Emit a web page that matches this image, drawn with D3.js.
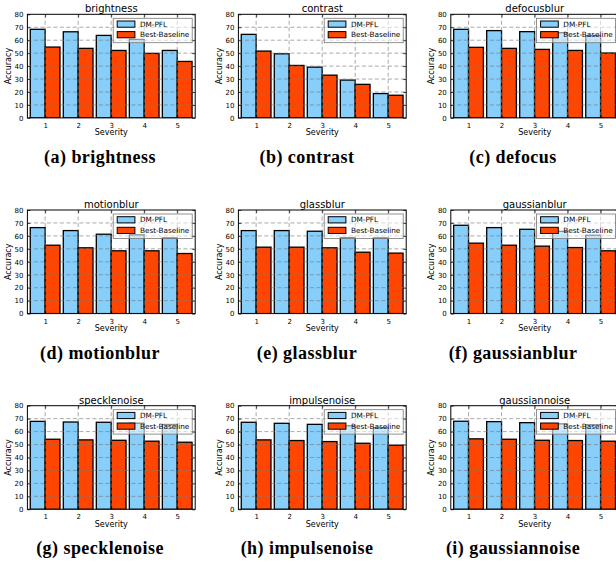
<!DOCTYPE html>
<html>
<head>
<meta charset="utf-8">
<script src="https://cdnjs.cloudflare.com/ajax/libs/d3/7.8.5/d3.min.js"></script>
<style>
  html, body { margin: 0; padding: 0; background: #fff; }
  svg { display: block; }
</style>
</head>
<body>
<svg id="chart" width="616" height="565"></svg>
<script>
// ---- data ----
const severities = [1, 2, 3, 4, 5];
const yTicks = [0, 10, 20, 30, 40, 50, 60, 70, 80];
const seriesNames = ["DM-PFL", "Best-Baseline"];
const panelTitles = ["brightness", "contrast", "defocusblur", "motionblur", "glassblur", "gaussianblur", "specklenoise", "impulsenoise", "gaussiannoise"];
const captions = ["(a) brightness", "(b) contrast", "(c) defocus", "(d) motionblur", "(e) glassblur", "(f) gaussianblur", "(g) specklenoise", "(h) impulsenoise", "(i) gaussiannoise"];

const dmBrightness    = [68.4, 66.5, 63.7, 60.6, 52.1];
const baseBrightness  = [54.7, 53.7, 52.1, 49.8, 43.6];
const dmContrast      = [64.5, 49.5, 39.2, 29.2, 18.8];
const baseContrast    = [51.6, 40.5, 33.0, 25.9, 17.5];
const dmDefocus       = [68.4, 67.4, 66.6, 65.8, 63.5];
const baseDefocus     = [54.5, 53.7, 52.9, 52.1, 50.1];
const dmMotion        = [66.4, 64.1, 61.3, 60.8, 58.5];
const baseMotion      = [52.8, 50.8, 48.5, 48.5, 46.4];
const dmGlass         = [64.1, 64.1, 63.6, 58.7, 58.5];
const baseGlass       = [51.3, 51.3, 50.8, 47.4, 46.7];
const dmGaussBlur     = [68.2, 66.4, 65.1, 63.5, 60.5];
const baseGaussBlur   = [54.4, 52.8, 52.1, 51.0, 48.5];
const dmSpeckle       = [67.9, 67.4, 67.2, 66.5, 65.5];
const baseSpeckle     = [54.1, 53.6, 53.3, 52.6, 51.8];
const dmImpulse       = [67.2, 66.4, 65.6, 64.5, 63.0];
const baseImpulse     = [53.6, 53.1, 52.3, 51.0, 49.5];
const dmGaussNoise    = [68.0, 67.7, 66.9, 66.0, 65.3];
const baseGaussNoise  = [54.4, 54.1, 53.3, 53.1, 52.6];

const dmSeries = [dmBrightness, dmContrast, dmDefocus, dmMotion, dmGlass, dmGaussBlur, dmSpeckle, dmImpulse, dmGaussNoise];
const baseSeries = [baseBrightness, baseContrast, baseDefocus, baseMotion, baseGlass, baseGaussBlur, baseSpeckle, baseImpulse, baseGaussNoise];

// ---- layout ----
const colLefts = [27.4, 238.4, 450.8];
const rowTops = [14.3, 210, 405.7];
const captionCenters = [100, 307, 513];
const captionBaselines = [163, 358.5, 554];
const plotW = 167.8, plotH = 103.6;
const colors = ["#87CEFA", "#FF4500"];
const barW = 0.45;

const svg = d3.select("#chart");

panelTitles.forEach((title, i) => {
  const r = Math.floor(i / 3), c = i % 3;
  const g = svg.append("g").attr("transform", `translate(${colLefts[c]},${rowTops[r]})`);
  const x = d3.scaleLinear().domain([0.463, 5.545]).range([0, plotW]);
  const y = d3.scaleLinear().domain([0, 80]).range([plotH, 0]);

  const clipId = "clip" + i;
  g.append("clipPath").attr("id", clipId).append("rect").attr("width", plotW).attr("height", plotH);
  const inner = g.append("g").attr("clip-path", `url(#${clipId})`);

  // bars
  const dm = dmSeries[i], bb = baseSeries[i];
  [dm, bb].forEach((vals, s) => {
    inner.selectAll(null).data(severities).enter().append("rect")
      .attr("x", (d) => x(s === 0 ? d - barW : d))
      .attr("width", x(barW) - x(0))
      .attr("y", (d, k) => y(vals[k]))
      .attr("height", (d, k) => y(0) - y(vals[k]))
      .attr("fill", colors[s])
      .attr("stroke", "#000")
      .attr("stroke-width", 1.3);
  });

  // grid over bars
  inner.selectAll(null).data(yTicks.slice(1, -1)).enter().append("line")
    .attr("x1", 0).attr("x2", plotW)
    .attr("y1", (d) => y(d)).attr("y2", (d) => y(d))
    .attr("stroke", "#7a7a7a").attr("stroke-width", 0.8).attr("stroke-dasharray", "4,2.5")
    .attr("opacity", 0.8);
  inner.selectAll(null).data(severities).enter().append("line")
    .attr("y1", 0).attr("y2", plotH)
    .attr("x1", (d) => x(d)).attr("x2", (d) => x(d))
    .attr("stroke", "#7a7a7a").attr("stroke-width", 0.8).attr("stroke-dasharray", "4,2.5")
    .attr("opacity", 0.8);

  // axes
  const yAxis = d3.axisLeft(y).tickValues(yTicks).tickFormat(d3.format("d")).tickSizeInner(-3).tickSizeOuter(0).tickPadding(4);
  const xAxis = d3.axisBottom(x).tickValues(severities).tickFormat(d3.format("d")).tickSizeInner(-3).tickSizeOuter(0).tickPadding(5);
  const ya = g.append("g").call(yAxis);
  const xa = g.append("g").attr("transform", `translate(0,${plotH})`).call(xAxis);
  [ya, xa].forEach((a) => {
    a.select(".domain").remove();
    a.selectAll("text").attr("font-family", "DejaVu Sans").attr("font-size", 7).attr("fill", "#000");
    a.selectAll("line").attr("stroke", "#000").attr("stroke-width", 0.7);
  });
  // top/right inward ticks
  const ya2 = g.append("g").attr("transform", `translate(${plotW},0)`).call(d3.axisRight(y).tickValues(yTicks).tickSizeInner(-3).tickSizeOuter(0).tickFormat(""));
  const xa2 = g.append("g").call(d3.axisTop(x).tickValues(severities).tickSizeInner(-3).tickSizeOuter(0).tickFormat(""));
  [ya2, xa2].forEach((a) => {
    a.select(".domain").remove();
    a.selectAll("line").attr("stroke", "#000").attr("stroke-width", 0.7);
  });

  // frame
  g.append("rect").attr("width", plotW).attr("height", plotH)
    .attr("fill", "none").attr("stroke", "#000").attr("stroke-width", 1);

  // title
  g.append("text").attr("x", plotW / 2).attr("y", -2)
    .attr("text-anchor", "middle").attr("font-family", "DejaVu Sans").attr("font-size", 10)
    .text(title);

  // axis labels
  g.append("text").attr("x", plotW / 2).attr("y", plotH + 17.5)
    .attr("text-anchor", "middle").attr("font-family", "DejaVu Sans").attr("font-size", 8)
    .text("Severity");
  g.append("text").attr("transform", `translate(-16.5,${plotH / 2}) rotate(-90)`)
    .attr("text-anchor", "middle").attr("font-family", "DejaVu Sans").attr("font-size", 8)
    .text("Accuracy");

  // legend
  const lw = 79, lh = 24.4;
  const lg = g.append("g").attr("transform", `translate(${plotW - 3 - lw},4)`);
  lg.append("rect").attr("width", lw).attr("height", lh)
    .attr("fill", "#fff").attr("fill-opacity", 0.55).attr("stroke", "#777").attr("stroke-width", 0.8);
  seriesNames.forEach((name, s) => {
    const cy = 5.8 + s * 10.6;
    lg.append("rect").attr("x", 4).attr("y", cy - 3.1).attr("width", 17.7).attr("height", 6.2)
      .attr("fill", colors[s]).attr("stroke", "#000").attr("stroke-width", 1);
    lg.append("text").attr("x", 26.7).attr("y", cy + 2.6)
      .attr("font-family", "DejaVu Sans").attr("font-size", 7.3).text(name);
  });
});

// captions
captions.forEach((cap, i) => {
  const r = Math.floor(i / 3), c = i % 3;
  svg.append("text").attr("x", captionCenters[c]).attr("y", captionBaselines[r])
    .attr("text-anchor", "middle").attr("font-family", "Liberation Serif").attr("font-weight", "bold")
    .attr("font-size", 18).attr("letter-spacing", 0.45).text(cap);
});
</script>
</body>
</html>
